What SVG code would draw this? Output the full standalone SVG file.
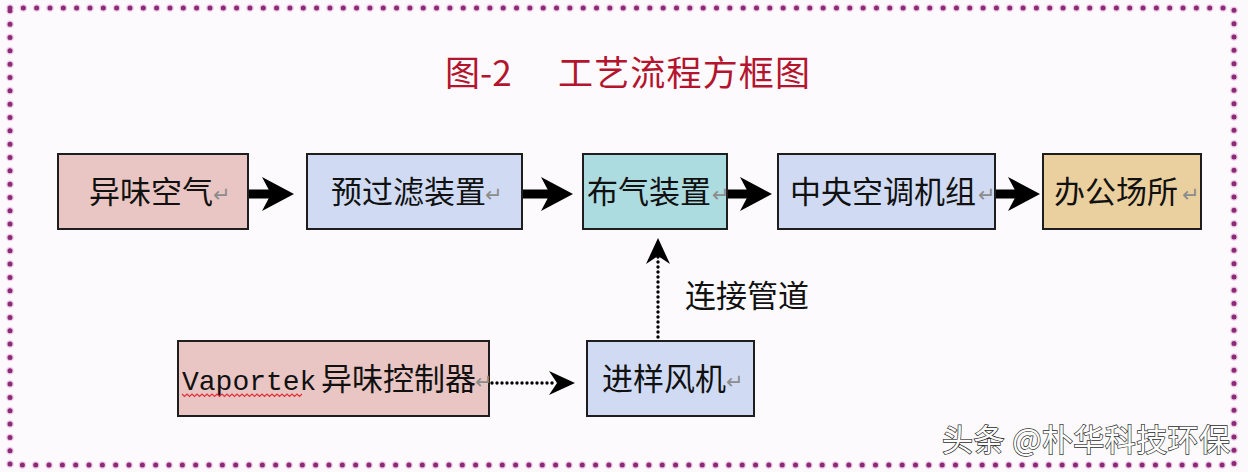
<svg xmlns="http://www.w3.org/2000/svg" width="1248" height="472" viewBox="0 0 1248 472">
<style>
.bx{stroke:#1e1e1e;stroke-width:2}
.pink{fill:#e9c6c3}
.blue{fill:#d0dbf3}
.cyan{fill:#acdbe0}
.tan{fill:#ebd09f}
.n{font-family:"Noto Sans CJK SC","Noto Sans",sans-serif;font-size:31px;fill:#111}
.m{font-family:"Liberation Mono",monospace;font-size:28px;fill:#111}
.r{font-family:"DejaVu Sans",sans-serif;font-size:21px;fill:#8c8c8c}
.t{font-family:"Noto Sans CJK SC",serif;font-size:35px;fill:#b3142e}
.thick{stroke:#000;stroke-width:9;fill:none;marker-end:url(#bigHead)}
.dot{stroke:#000;stroke-width:3.4;fill:none;stroke-dasharray:0 5;stroke-linecap:round;marker-end:url(#dotHead)}
.wm{font-family:"Noto Sans CJK SC",sans-serif;font-size:31px;fill:#fff;stroke:#2a2a2a;stroke-width:1.4;paint-order:stroke}
</style>
<defs>
<marker id="bigHead" markerUnits="userSpaceOnUse" viewBox="0 0 32 34" refX="12" refY="17" markerWidth="32" markerHeight="34" orient="auto">
<path d="M0,0 L32,17 L0,34 L9,17 Z" fill="#000"/>
</marker>
<marker id="dotHead" markerUnits="userSpaceOnUse" viewBox="0 0 26 24" refX="8" refY="12" markerWidth="26" markerHeight="24" orient="auto">
<path d="M0,0 L26,12 L0,24 L8,12 Z" fill="#000"/>
</marker>
</defs>
<rect x="0" y="0" width="1248" height="472" fill="#fbf9fb"/>
<rect x="10" y="8" width="1224" height="457" fill="#fdfcfd" stroke="#e7acd9" stroke-width="7.5" stroke-dasharray="0 13.33" stroke-linecap="round" opacity="0.6"/>
<rect x="10" y="8" width="1224" height="457" fill="none" stroke="#8b2a76" stroke-width="5" stroke-dasharray="0 13.33" stroke-linecap="round"/>

<g id="title">
<text class="t" x="445" y="86">图-2</text>
<text class="t" x="558" y="86" textLength="252">工艺流程方框图</text>
</g>

<g id="connectors">
<line class="thick" x1="248" y1="194" x2="274" y2="194"/>
<line class="thick" x1="522" y1="194" x2="553" y2="194"/>
<line class="thick" x1="727" y1="194" x2="752" y2="194"/>
<line class="thick" x1="995" y1="194" x2="1020" y2="194"/>
<line class="dot" x1="658" y1="337" x2="658" y2="256"/>
<line class="dot" x1="492" y1="383" x2="557" y2="383"/>
<text class="n" x="685" y="307">连接管道</text>
</g>

<g id="node-odor-air">
<rect class="bx pink" x="58" y="154" width="190" height="75"/>
<text class="n" x="89" y="203">异味空气</text>
<text class="r" x="213" y="202">↵</text>
</g>
<g id="node-prefilter">
<rect class="bx blue" x="307" y="154" width="215" height="75"/>
<text class="n" x="331" y="203">预过滤装置</text>
<text class="r" x="485" y="202">↵</text>
</g>
<g id="node-distributor">
<rect class="bx cyan" x="583" y="154" width="144" height="75"/>
<text class="n" x="587" y="203">布气装置</text>
<text class="r" x="712" y="202">↵</text>
</g>
<g id="node-ahu">
<rect class="bx blue" x="778" y="154" width="217" height="75"/>
<text class="n" x="790" y="203">中央空调机组</text>
<text class="r" x="978" y="202">↵</text>
</g>
<g id="node-office">
<rect class="bx tan" x="1043" y="154" width="158" height="75"/>
<text class="n" x="1054" y="203">办公场所</text>
<text class="r" x="1182" y="202">↵</text>
</g>
<g id="node-vaportek">
<rect class="bx pink" x="178" y="341" width="311" height="75"/>
<text class="m" x="182" y="390">Vaportek</text>
<path d="M182 394 l2.5 2.5 2.5 -2.5 2.5 2.5 2.5 -2.5 2.5 2.5 2.5 -2.5 2.5 2.5 2.5 -2.5 2.5 2.5 2.5 -2.5 2.5 2.5 2.5 -2.5 2.5 2.5 2.5 -2.5 2.5 2.5 2.5 -2.5 2.5 2.5 2.5 -2.5 2.5 2.5 2.5 -2.5 2.5 2.5 2.5 -2.5 2.5 2.5 2.5 -2.5 2.5 2.5 2.5 -2.5 2.5 2.5 2.5 -2.5 2.5 2.5 2.5 -2.5 2.5 2.5 2.5 -2.5 2.5 2.5 2.5 -2.5 2.5 2.5 2.5 -2.5 2.5 2.5 2.5 -2.5 2.5 2.5 2.5 -2.5 2.5 2.5 2.5 -2.5 2.5 2.5 2.5 -2.5 2.5 2.5 2.5 -2.5 2.5 2.5 2.5 -2.5" fill="none" stroke="#e0303a" stroke-width="1.2"/>
<text class="n" x="321" y="390">异味控制器</text>
<text class="r" x="475" y="389">↵</text>
</g>
<g id="node-fan">
<rect class="bx blue" x="587" y="341" width="167" height="75"/>
<text class="n" x="602" y="390">进样风机</text>
<text class="r" x="726" y="389">↵</text>
</g>

<g id="watermark">
<text class="wm" x="942" y="451" textLength="288">头条 @朴华科技环保</text>
</g>
</svg>
